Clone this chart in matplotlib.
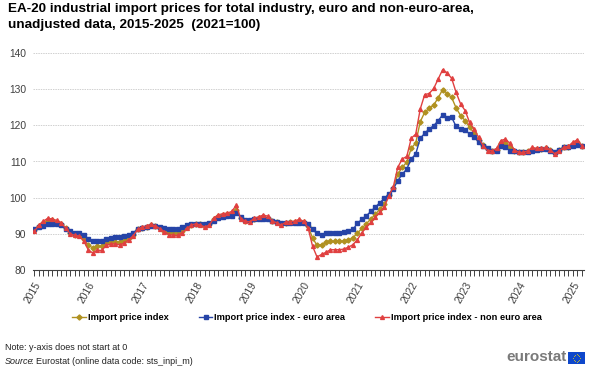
import numpy as np
import matplotlib
matplotlib.use("Agg")
import matplotlib.pyplot as plt
from matplotlib.lines import Line2D
from matplotlib.patches import Rectangle

plt.rcParams['font.family'] = ['Liberation Sans', 'DejaVu Sans']

years = ['2015', '2016', '2017', '2018', '2019', '2020', '2021', '2022', '2023', '2024', '2025']

total = [
    91.0, 92.1, 93.1, 93.7, 93.7, 93.3, 92.8, 91.5, 90.3, 89.8, 89.6, 88.6,
    86.9, 86.1, 86.6, 86.5, 87.4, 87.8, 87.8, 87.8, 88.0, 88.9, 89.6, 91.2,
    91.7, 92.0, 92.4, 92.2, 91.7, 90.9, 90.3, 90.2, 90.2, 90.7, 91.9, 92.4,
    92.8, 92.6, 92.2, 92.6, 94.0, 94.8, 95.2, 95.4, 95.6, 96.6, 94.4, 93.5,
    93.5, 94.2, 94.4, 94.7, 94.4, 93.5, 93.2, 92.7, 93.1, 93.2, 93.3, 93.5,
    93.3, 92.1, 88.9, 86.8, 87.0, 87.7, 87.9, 87.9, 87.9, 88.0, 88.3, 88.9,
    90.2, 91.5, 92.8, 94.1, 95.4, 96.8, 98.3, 100.6, 102.6, 106.5, 108.4, 109.8,
    113.7, 115.1, 121.0, 123.6, 124.7, 125.6, 127.6, 129.9, 128.8, 127.7, 124.8, 122.7,
    121.3, 119.5, 117.8, 116.0, 114.5, 113.5, 113.0, 113.3, 115.0, 115.1, 114.0, 113.0,
    112.5, 112.5, 112.9, 113.4, 113.5, 113.5, 113.7, 113.1, 112.4, 113.1, 113.9, 114.0,
    114.9, 115.4, 114.4,
]

euro_area = [
    91.4, 91.9, 92.3, 92.6, 92.8, 92.8, 92.4, 91.4, 90.7, 90.3, 90.3, 89.6,
    88.6, 88.0, 88.0, 88.1, 88.6, 88.9, 89.1, 89.1, 89.3, 89.8, 90.3, 91.2,
    91.5, 91.9, 92.2, 92.1, 91.9, 91.7, 91.4, 91.2, 91.2, 91.9, 92.4, 92.6,
    92.8, 92.8, 92.6, 92.9, 93.5, 94.4, 94.6, 94.8, 95.0, 95.8, 94.7, 93.7,
    93.7, 94.0, 94.0, 94.2, 94.0, 93.5, 93.2, 92.9, 93.1, 93.1, 93.1, 93.1,
    93.1, 92.6, 91.2, 90.1, 89.6, 90.1, 90.3, 90.3, 90.3, 90.5, 90.7, 91.2,
    92.9, 94.0, 95.0, 96.2, 97.4, 98.6, 99.8, 101.0, 102.4, 104.7, 106.5, 107.9,
    110.7, 112.1, 116.4, 117.8, 119.0, 119.9, 121.3, 122.9, 121.9, 122.2, 119.7, 119.0,
    118.7, 117.6, 116.7, 115.5, 114.4, 113.6, 113.0, 113.0, 114.2, 113.9, 113.0, 112.8,
    112.5, 112.5, 112.7, 113.0, 113.3, 113.5, 113.5, 113.0, 112.7, 113.3, 113.9, 113.9,
    114.4, 114.7, 114.4,
]

non_euro_area = [
    90.7, 92.4, 93.5, 94.3, 94.1, 93.7, 93.1, 91.5, 90.0, 89.6, 89.4, 88.1,
    85.6, 84.7, 85.5, 85.4, 86.8, 87.2, 87.2, 87.0, 87.4, 88.4, 89.4, 91.2,
    91.9, 92.2, 92.6, 92.2, 91.4, 90.6, 89.8, 89.6, 89.6, 90.3, 91.5, 92.4,
    92.8, 92.4, 91.9, 92.4, 94.4, 95.2, 95.6, 95.7, 96.2, 97.9, 94.2, 93.5,
    93.3, 94.3, 94.7, 95.2, 94.9, 93.5, 93.1, 92.4, 93.2, 93.4, 93.5, 94.0,
    93.5, 91.7, 86.6, 83.6, 84.3, 84.9, 85.6, 85.6, 85.6, 85.8, 86.3, 87.0,
    88.4, 90.3, 91.8, 93.2, 94.6, 96.0, 97.5, 100.4, 103.0, 108.4, 110.7, 111.4,
    116.4, 117.6, 124.5, 128.5, 128.8, 130.2, 132.8, 135.4, 134.5, 133.0, 129.1, 125.9,
    124.1, 120.8, 119.0, 116.7, 114.4, 113.0, 113.0, 113.6, 115.8, 116.2, 115.0, 113.2,
    112.5, 112.5, 113.0, 113.9, 113.6, 113.6, 113.9, 113.2, 112.1, 113.0, 113.9, 114.2,
    115.3, 116.0, 114.4,
]

series_names = ['Import price index', 'Import price index - euro area',
                'Import price index - non euro area']

c_gold = '#B09120'
c_blue = '#2644A7'
c_red = '#E04040'

W, H = 600, 370
fig = plt.figure(figsize=(W / 100, H / 100), dpi=100)
ax = fig.add_axes([33 / W, 1 - 270 / H, (584 - 33) / W, (270 - 53) / H])

x = np.arange(len(total))
ax.plot(x, total, color=c_gold, lw=1.0, marker='D', ms=2.6, zorder=3)
ax.plot(x, euro_area, color=c_blue, lw=1.0, marker='s', ms=2.8, zorder=4)
ax.plot(x, non_euro_area, color=c_red, lw=1.0, marker='^', ms=2.8, zorder=5)

ax.set_xlim(-0.3, len(total) - 0.5)
ax.set_ylim(80, 140)
ax.set_yticks(np.arange(80, 141, 10))
ax.tick_params(axis='y', length=0, labelsize=7.4, labelcolor='#404040', pad=5)
ax.yaxis.grid(True, color='#d0d0d0', lw=0.7, ls=(0, (1.5, 1)))
ax.set_axisbelow(True)

ax.set_xticks(np.arange(0, len(total), 12))
ax.set_xticklabels(years, rotation=60, ha='right', rotation_mode='anchor')
ax.set_xticks(np.arange(0, len(total)), minor=True)
ax.tick_params(axis='x', which='both', length=4, color='#404040', width=0.7,
               labelsize=7.4, labelcolor='#404040', pad=3)

for s in ['top', 'right', 'left']:
    ax.spines[s].set_visible(False)
ax.spines['bottom'].set_color('#404040')
ax.spines['bottom'].set_linewidth(0.8)

fig.text(8 / W, 1 - 3 / H,
         'EA-20 industrial import prices for total industry, euro and non-euro-area,\n'
         'unadjusted data, 2015-2025  (2021=100)',
         ha='left', va='top', fontsize=9.7, fontweight='bold', color='black',
         linespacing=1.4)

handles = [
    Line2D([], [], color=c_gold, lw=1.0, marker='D', ms=2.6),
    Line2D([], [], color=c_blue, lw=1.0, marker='s', ms=2.8),
    Line2D([], [], color=c_red, lw=1.0, marker='^', ms=2.8),
]
leg = fig.legend(handles, series_names, loc='center', bbox_to_anchor=(307 / W, 1 - 318 / H),
                 ncol=3, frameon=False, handlelength=1.5, handletextpad=0.2,
                 columnspacing=3.2, prop={'size': 6.7, 'weight': 'bold'})

fig.text(5 / W, 1 - 347 / H, 'Note: y-axis does not start at 0', fontsize=6.5,
         color='#222222', va='center', ha='left')
fig.text(5 / W, 1 - 361 / H, 'Source', fontsize=6.5, style='italic',
              color='#222222', va='center', ha='left')
fig.text(31 / W, 1 - 361 / H, ': Eurostat (online data code: sts_inpi_m)', fontsize=6.5,
         color='#222222', va='center', ha='left')

fig.text(567 / W, 1 - 357 / H, 'eurostat', fontsize=11, fontweight='bold',
         color='#7a7a7a', va='center', ha='right')
flag = fig.add_axes([568 / W, 1 - 364 / H, 17 / W, 12 / H])
flag.set_xlim(0, 1.5)
flag.set_ylim(0, 1)
flag.add_patch(Rectangle((0, 0), 1.5, 1, color='#0E47CB'))
ang = np.linspace(0, 2 * np.pi, 12, endpoint=False)
flag.scatter(0.75 + 0.3 * np.cos(ang), 0.5 + 0.3 * np.sin(ang), s=0.3, color='#FFDD00', lw=0)
flag.axis('off')

fig.savefig('out.png', dpi=100)
